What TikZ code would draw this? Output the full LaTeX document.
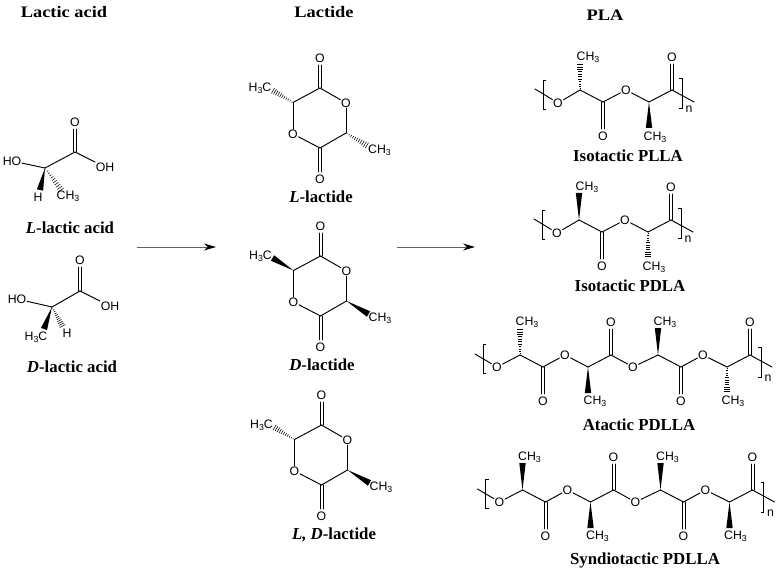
\documentclass[tikz,border=0pt]{standalone}
\usepackage{fontspec}
\setmainfont{Liberation Serif}
\setsansfont{Liberation Sans}
\newfontfamily\headfont[FakeStretch=1.15]{Liberation Serif}
\usetikzlibrary{calc,arrows.meta}
\newcommand\three{\raisebox{-2.2pt}{\fontsize{8.8}{9}\selectfont 3}}
\tikzset{
  bond/.style={line width=.95pt,line cap=round,line join=round},
  atom/.style={font=\sffamily\fontsize{12.3}{13}\selectfont,inner sep=.8pt,outer sep=0pt},
  captext/.style={font=\bfseries\fontsize{16.8}{18}\selectfont,inner sep=0pt},
  headtext/.style={font=\headfont\bfseries\fontsize{16}{18}\selectfont,inner sep=0pt},
  brk/.style={line width=.65pt},
  react/.style={line width=1pt,draw=black!62,-{Stealth[length=12pt,width=7pt,black]}}
}
\newcommand\dblb[2]{%
  \draw[bond,shorten >=7pt] ($(#1)!1.5pt!90:(#2.center)$) -- ($(#2.center)!1.5pt!-90:(#1)$);
  \draw[bond,shorten >=7pt] ($(#1)!1.5pt!-90:(#2.center)$) -- ($(#2.center)!1.5pt!90:(#1)$);}
\newcommand\wedgeb[2]{\fill (#1) -- ($(#2)!3.2pt!90:(#1)$) -- ($(#2)!3.2pt!-90:(#1)$) -- cycle;}
\newcommand\hashb[2]{%
  \foreach \t in {.05,.14,.23,.32,.41,.5,.59,.68,.77,.86,.95}{%
    \pgfmathsetmacro\hw{.3+3*\t}%
    \coordinate (hp) at ($(#1)!\t!(#2)$);
    \draw[line width=.55pt] ($(hp)!\hw pt!90:(#1)$) -- ($(hp)!\hw pt!-90:(#1)$);
  }}
% lactide ring: #1 name, #2 origin (top carbonyl C), #3 left stereo bond, #4 right stereo bond
\newcommand\lactidering[4]{%
\begin{scope}[shift={#2},name prefix=#1-]
  \coordinate (ct) at (0,0);
  \coordinate (ul) at (-27,14.5);
  \coordinate (lr) at (26,45);
  \coordinate (cb) at (0,60);
  \coordinate (ml) at (-48,2);
  \coordinate (mr) at (48,58);
  \node[atom] (ot) at (0,-30) {O};
  \node[atom] (ob) at (0,91) {O};
  \node[atom] (or) at (26,15) {O};
  \node[atom] (ol) at (-27,46) {O};
  \node[atom] (lm) at (-60,0) {H\three C};
  \node[atom] (rm) at (59.5,62) {CH\three};
  \dblb{ct}{ot}
  \dblb{cb}{ob}
  \draw[bond] (ct) -- (or);
  \draw[bond] (or) -- (lr);
  \draw[bond] (lr) -- (cb);
  \draw[bond] (cb) -- (ol);
  \draw[bond] (ol) -- (ul);
  \draw[bond] (ul) -- (ct);
  #3{ul}{ml}
  #4{lr}{mr}
\end{scope}}
% two-unit PLA chain
\newcommand\platwo[4]{%
\begin{scope}[shift={#2},name prefix=#1-]
  \coordinate (st) at (-45,-1);
  \coordinate (c1) at (0,0);
  \coordinate (c2) at (23,12);
  \coordinate (c3) at (69,12);
  \coordinate (c4) at (92,0);
  \coordinate (en) at (114,12);
  \coordinate (m1) at (0,-27);
  \coordinate (m3) at (69,38);
  \node[atom] (o1) at (-22,13) {O};
  \node[atom] (o2) at (46,0) {O};
  \node[atom] (ob) at (23,46) {O};
  \node[atom] (ot) at (92,-33) {O};
  \node[atom] (l1) at (8,-33) {CH\three};
  \node[atom] (l3) at (75,47) {CH\three};
  \node[atom] (nn) at (109,19) {n};
  \dblb{c2}{ob}
  \dblb{c4}{ot}
  \draw[bond] (st) -- (o1);
  \draw[bond] (o1) -- (c1);
  \draw[bond] (c1) -- (c2);
  \draw[bond] (c2) -- (o2);
  \draw[bond] (o2) -- (c3);
  \draw[bond] (c3) -- (c4);
  \draw[bond] (c4) -- (en);
  #3{c1}{m1}
  #4{c3}{m3}
  \draw[brk] (-34,-10) -- (-37,-10) -- (-37,19) -- (-34,19);
  \draw[brk] (99,-12) -- (102,-12) -- (102,18) -- (99,18);
\end{scope}}
% four-unit PLA chain
\newcommand\plafour[6]{%
\begin{scope}[shift={#2},name prefix=#1-]
  \coordinate (st) at (-45,-1);
  \coordinate (c1) at (0,0);
  \coordinate (c2) at (23,12);
  \coordinate (c3) at (68,12);
  \coordinate (c4) at (91,0);
  \coordinate (c5) at (138,0);
  \coordinate (c6) at (161,12);
  \coordinate (c7) at (207,12);
  \coordinate (c8) at (230,0);
  \coordinate (en) at (252,12);
  \coordinate (m1) at (0,-27);
  \coordinate (m3) at (68,38);
  \coordinate (m5) at (138,-27);
  \coordinate (m7) at (207,38);
  \node[atom] (o1) at (-23,12) {O};
  \node[atom] (o2) at (45,0) {O};
  \node[atom] (o3) at (113,12) {O};
  \node[atom] (o4) at (183,0) {O};
  \node[atom] (ob1) at (23,46) {O};
  \node[atom] (ob2) at (161,46) {O};
  \node[atom] (ot1) at (91,-33) {O};
  \node[atom] (ot2) at (230,-33) {O};
  \node[atom] (l1) at (7,-33) {CH\three};
  \node[atom] (l3) at (75,46) {CH\three};
  \node[atom] (l5) at (145,-33) {CH\three};
  \node[atom] (l7) at (213,46) {CH\three};
  \node[atom] (nn) at (248,23) {n};
  \dblb{c2}{ob1}
  \dblb{c4}{ot1}
  \dblb{c6}{ob2}
  \dblb{c8}{ot2}
  \draw[bond] (st) -- (o1);
  \draw[bond] (o1) -- (c1);
  \draw[bond] (c1) -- (c2);
  \draw[bond] (c2) -- (o2);
  \draw[bond] (o2) -- (c3);
  \draw[bond] (c3) -- (c4);
  \draw[bond] (c4) -- (o3);
  \draw[bond] (o3) -- (c5);
  \draw[bond] (c5) -- (c6);
  \draw[bond] (c6) -- (o4);
  \draw[bond] (o4) -- (c7);
  \draw[bond] (c7) -- (c8);
  \draw[bond] (c8) -- (en);
  #3{c1}{m1}
  #4{c3}{m3}
  #5{c5}{m5}
  #6{c7}{m7}
  \draw[brk] (-34,-11) -- (-37,-11) -- (-37,18) -- (-34,18);
  \draw[brk] (238,-8) -- (241,-8) -- (241,22) -- (238,22);
\end{scope}}
\begin{document}
\begin{tikzpicture}[x=1pt,y=-1pt]
\useasboundingbox (0,0) rectangle (779,572);
\fill[white] (0,0) rectangle (779,572);
% headers
\node[headtext] (h1) at (64,12) {Lactic acid};
\node[headtext] (h2) at (324,12) {Lactide};
\node[headtext] (h3) at (605,15) {PLA};
% L-lactic acid
\coordinate (la-c) at (45,168);
\coordinate (la-k) at (75,152);
\coordinate (la-w) at (40,190);
\coordinate (la-h) at (62,191);
\node[atom] (la-o) at (75,122) {O};
\node[atom] (la-oh) at (105,167) {OH};
\node[atom] (la-ho) at (12,161) {HO};
\node[atom] (la-hh) at (38,197) {H};
\node[atom] (la-me) at (68,196) {CH\three};
\dblb{la-k}{la-o}
\draw[bond] (la-ho) -- (la-c);
\draw[bond] (la-c) -- (la-k);
\draw[bond] (la-k) -- (la-oh);
\wedgeb{la-c}{la-w}
\hashb{la-c}{la-h}
\node[captext] (la-cap) at (70,228) {\textit{L}-lactic acid};
% D-lactic acid
\coordinate (da-c) at (52,307);
\coordinate (da-k) at (80,291);
\coordinate (da-w) at (44,329);
\coordinate (da-h) at (63,327);
\node[atom] (da-o) at (80,260) {O};
\node[atom] (da-oh) at (110,306) {OH};
\node[atom] (da-ho) at (17,299) {HO};
\node[atom] (da-hh) at (67,333.5) {H};
\node[atom] (da-me) at (36,337) {H\three C};
\dblb{da-k}{da-o}
\draw[bond] (da-ho) -- (da-c);
\draw[bond] (da-c) -- (da-k);
\draw[bond] (da-k) -- (da-oh);
\wedgeb{da-c}{da-w}
\hashb{da-c}{da-h}
\node[captext] (da-cap) at (72,367) {\textit{D}-lactic acid};
% arrows
\coordinate (a1s) at (137,247);
\coordinate (a1e) at (216,247);
\coordinate (a2s) at (397,247);
\coordinate (a2e) at (475,247);
\draw[react] (a1s) -- (a1e);
\draw[react] (a2s) -- (a2e);
% lactides
\lactidering{ll}{(320,88)}{\hashb}{\hashb}
\node[captext] (ll-cap) at (321,197) {\textit{L}-lactide};
\lactidering{dl}{(320.5,256)}{\wedgeb}{\wedgeb}
\node[captext] (dl-cap) at (322,365) {\textit{D}-lactide};
\lactidering{ld}{(321.5,425)}{\hashb}{\wedgeb}
\node[captext] (ld-cap) at (334,535) {\textit{L, D}-lactide};
% polymers
\platwo{pl}{(580,90)}{\hashb}{\wedgeb}
\node[captext] (pl-cap) at (628,156) {Isotactic PLLA};
\platwo{pd}{(579,220)}{\wedgeb}{\hashb}
\node[captext] (pd-cap) at (630,286) {Isotactic PDLA};
\plafour{at}{(520,355)}{\hashb}{\wedgeb}{\wedgeb}{\hashb}
\node[captext] (at-cap) at (639,425) {Atactic PDLLA};
\plafour{sy}{(522.5,490)}{\wedgeb}{\wedgeb}{\wedgeb}{\wedgeb}
\node[captext] (sy-cap) at (645,560) {Syndiotactic PDLLA};
\end{tikzpicture}
\end{document}
